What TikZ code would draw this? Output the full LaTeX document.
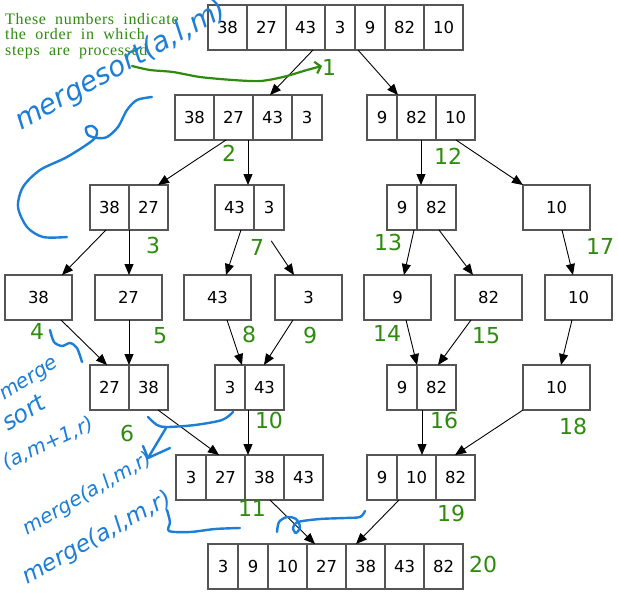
\documentclass[tikz,border=0pt]{standalone}
\usepackage{fontspec}
\setmainfont{DejaVu Sans}
\newfontfamily\notefont[WordSpace=2,LetterSpace=4]{Liberation Serif}
\newfontfamily\inkfont{DejaVu Sans}
\usetikzlibrary{positioning,arrows.meta,fit,calc}
\definecolor{boxgray}{HTML}{555555}
\definecolor{ordgreen}{HTML}{2E8B0E}
\definecolor{inkblue}{HTML}{1C7ED6}
\tikzset{
  cellbox/.style={rectangle, draw=boxgray, line width=1.3pt, minimum height=45pt, inner sep=0pt,
                  outer sep=0pt, font=\fontsize{16.5}{16.5}\selectfont},
  single/.style={cellbox, minimum width=67pt, anchor=north west},
  rowfit/.style={inner sep=0pt, outer sep=0pt},
  flow/.style={-{Triangle[length=11pt,width=9pt]}, line width=0.9pt},
  ordnum/.style={text=ordgreen, font=\fontsize{22}{22}\selectfont, inner sep=0pt},
  ink/.style={text=inkblue, inner sep=0pt, font=\inkfont\itshape},
  inkline/.style={draw=inkblue, line width=2.4pt, line cap=round, line join=round}
}
% a row of cells: name, top-left corner, values
\newcommand\cellrow[3]{%
  \foreach \v [count=\c, remember=\c as \p (initially 0)] in {#3} {
    \pgfmathsetmacro\w{\v<10 ? 30 : 39}
    \ifnum\c=1
      \node[cellbox, minimum width=\w pt, anchor=north west] (#1-\c) at #2 {\v};
    \else
      \node[cellbox, minimum width=\w pt, anchor=west] (#1-\c) at (#1-\p.east) {\v};
    \fi
    \xdef\lastcell{\c}
  }
  \node[rowfit, fit=(#1-1)(#1-\lastcell)] (#1) {};
}
\begin{document}
\begin{tikzpicture}[x=1pt, y=-1pt]
\useasboundingbox[fill=white] (0,0) rectangle (618,595);
% splitting
\cellrow{top}{(208,5)}{38,27,43,3,9,82,10}
\cellrow{L}{(175,95)}{38,27,43,3}
\cellrow{R}{(367,95)}{9,82,10}
\cellrow{LL}{(90,185)}{38,27}
\cellrow{LR}{(215,185)}{43,3}
\cellrow{RL}{(387,185)}{9,82}
\node[single] (RR) at (523,185) {10};
% single elements
\node[single] (l38) at (5,275) {38};
\node[single] (l27) at (95,275) {27};
\node[single] (l43) at (184,275) {43};
\node[single] (l3) at (275,275) {3};
\node[single] (l9) at (364,275) {9};
\node[single] (l82) at (455,275) {82};
\node[single] (l10) at (545,275) {10};
% merging
\cellrow{j2738}{(90,365)}{27,38}
\cellrow{j343}{(215,365)}{3,43}
\cellrow{j982}{(387,365)}{9,82}
\node[single] (j10) at (523,365) {10};
\cellrow{jl}{(176,455)}{3,27,38,43}
\cellrow{jr}{(367,455)}{9,10,82}
\cellrow{final}{(208,544)}{3,9,10,27,38,43,82}

\foreach \a/\i/\b/\j in {top/105/L/95, top/150/R/31, L/51/LL/68, L/73/LR/33, R/54/RL/34, R/89/RR/0,
    LL/16/l38/57, LL/39/l27/34, LR/26/l43/42, RL/27/l9/40, RL/52/l82/18, RR/39/l10/28,
    l38/56/j2738/17, l27/34/j2738/39, l43/43/j343/27, l3/18/j343/49, l9/42/j982/30, l82/16/j982/51,
    l10/27/j10/38, j2738/68/jl/43, j343/33/jl/72, j982/35/jr/55, j10/0/jr/88, jl/94/final/107, jr/32/final/148}
  \draw[flow] ([xshift=\i pt]\a.south west) -- ([xshift=\j pt]\b.north west);
\draw[flow, shorten <=13pt] ([xshift=49pt]LR.south west) -- ([xshift=19pt]l3.north west);

% order of the steps
\foreach \k/\x/\y in {1/329/67, 2/229/153, 3/153/245, 4/37/331, 5/160/336, 6/127/433, 7/257/247,
    8/249/334, 9/310/335, 10/269/420, 11/252/508, 12/448/156, 13/388/242, 14/387/333,
    15/486/336, 16/444/420, 17/600/246, 18/573/426, 19/451/513, 20/483/564}
  \node[ordnum] (n\k) at (\x,\y) {\k};
\node[text=ordgreen, font=\notefont\fontsize{16}{15.5}\selectfont, align=left, inner sep=0pt, anchor=north west] (note) at (5,13) {These numbers indicate\\the order in which\\steps are processed};
\draw[ordgreen, line width=2.2pt, line cap=round, -{Straight Barb[length=5pt,width=12pt]}]
  plot[smooth] coordinates {(132,66) (150,70) (173,72) (200,77) (233,80) (260,81) (283,77) (307,70) (322,66)};

% handwritten notes
\node[ink, rotate=29, font=\inkfont\itshape\fontsize{28}{28}\selectfont] (ms) at (121,66) {mergesort(a,l,m)};
\node[ink, rotate=32, anchor=base west, font=\inkfont\itshape\fontsize{20}{20}\selectfont] (ms2a) at (4,401) {merge};
\node[ink, rotate=32, anchor=base west, font=\inkfont\itshape\fontsize{24}{24}\selectfont] (ms2b) at (8,432) {sort};
\node[ink, rotate=25, anchor=base west, font=\inkfont\itshape\fontsize{20}{20}\selectfont] (ms2c) at (6,470) {(a,m+1,r)};
\node[ink, rotate=30, font=\inkfont\itshape\fontsize{20}{20}\selectfont] (mg1) at (88,494) {merge(a,l,m,r)};
\node[ink, rotate=29, font=\inkfont\itshape\fontsize{23}{23}\selectfont] (mg2) at (97,538) {merge(a,l,m,r)};
\draw[inkline] plot[smooth] coordinates {(152,97) (137,100) (127,110) (118,127) (107,137) (97,138) (88,135) (86,128) (92,126) (97,131) (93,140) (67,157) (40,170) (23,187) (18,207) (27,227) (43,237) (67,237)};
\draw[inkline] plot[smooth] coordinates {(50,330) (54,342) (62,346) (70,343) (77,348) (82,362)};
\draw[inkline] plot[smooth] coordinates {(148,417) (157,425) (167,427) (195,425) (222,420) (233,412)};
\draw[inkline] (166,428) -- (148,458);
\draw[inkline] (143,446) -- (148,458) -- (170,448);
\draw[inkline] plot[smooth] coordinates {(167,510) (170,522) (169,531) (190,532) (215,529) (240,528)};
\draw[inkline] plot[smooth] coordinates {(277,532) (279,522) (287,517) (296,519) (300,527) (296,533) (293,528) (298,522) (320,519) (345,518) (360,517) (365,511)};
\end{tikzpicture}
\end{document}
